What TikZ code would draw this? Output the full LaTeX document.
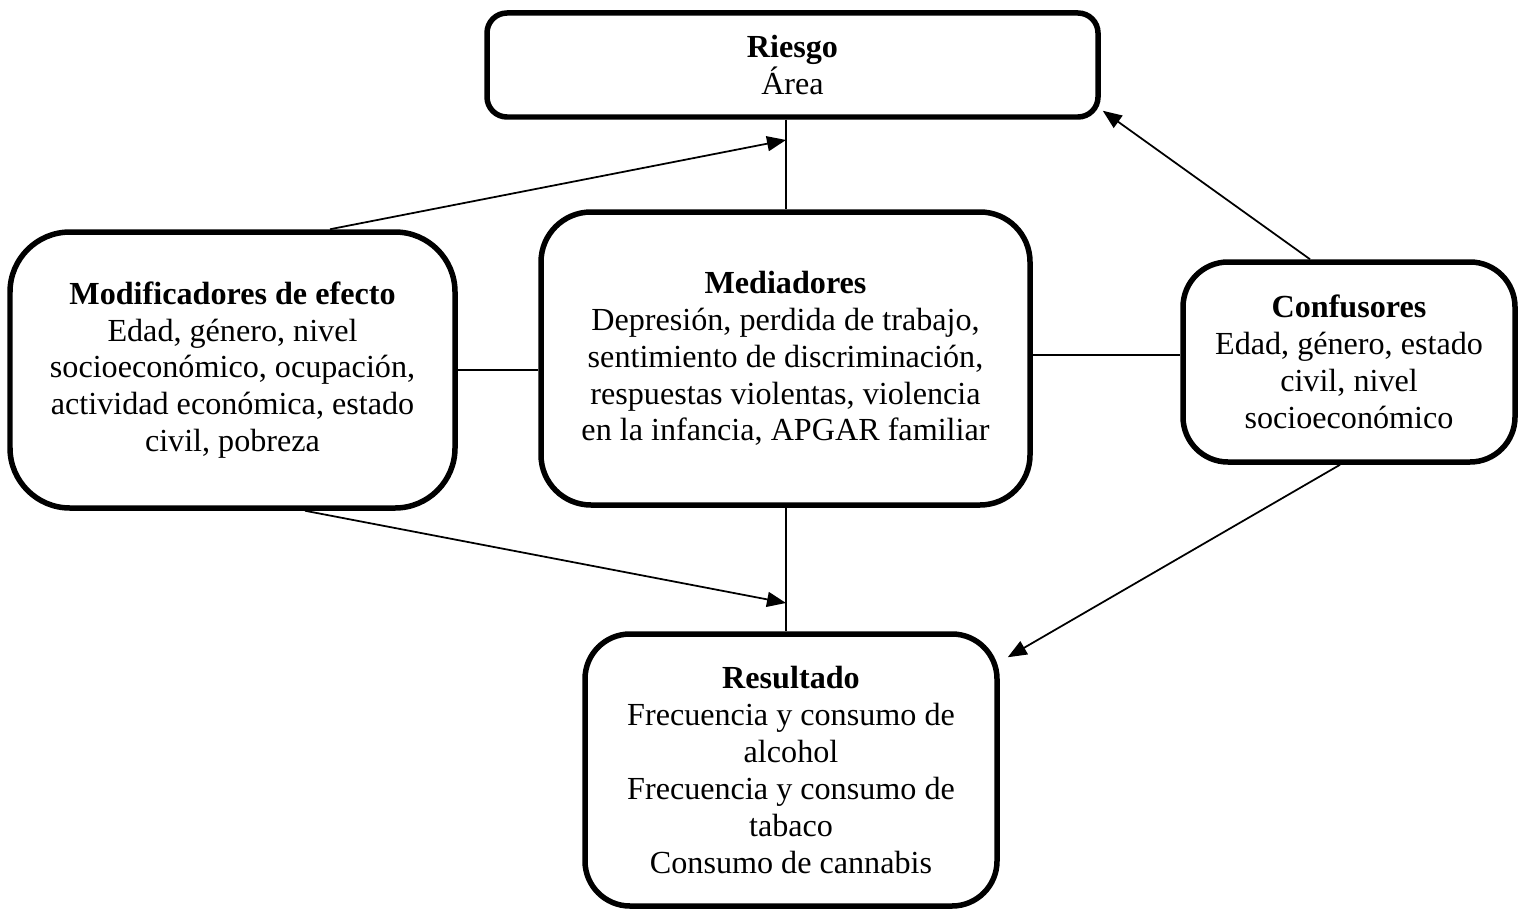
\documentclass[tikz,border=0pt]{standalone}
\usepackage{fontspec}
\setmainfont{Liberation Serif}
\usetikzlibrary{arrows.meta,calc}
\begin{document}
\begin{tikzpicture}[x=0.02cm,y=-0.02cm,
  box/.style={draw,line width=0.11cm,align=center,inner sep=0pt,font=\fontsize{18.3}{21}\selectfont},
  conn/.style={line width=1pt},
  arr/.style={conn,-{Triangle[length=0.38cm,width=0.3cm]}}]
\useasboundingbox (0,0) rectangle (1520,909);
\node[box,rounded corners=0.4cm,minimum width=611*0.02cm,minimum height=104*0.02cm] (riesgo) at (792.5,65)
  {\textbf{Riesgo}\\Área};
\node[box,rounded corners=1.2cm,minimum width=445*0.02cm,minimum height=276*0.02cm] (mod) at (232.5,370)
  {\textbf{Modificadores de efecto}\\Edad, género, nivel\\socioeconómico, ocupación,\\actividad económica, estado\\civil, pobreza};
\node[box,rounded corners=1.0cm,minimum width=489*0.02cm,minimum height=293*0.02cm] (medi) at (785.5,358.5)
  {\textbf{Mediadores}\\Depresión, perdida de trabajo,\\sentimiento de discriminación,\\respuestas violentas, violencia\\en la infancia, APGAR familiar};
\node[box,rounded corners=0.9cm,minimum width=332*0.02cm,minimum height=200*0.02cm] (conf) at (1349,362)
  {\textbf{Confusores}\\Edad, género, estado\\civil, nivel\\socioeconómico};
\node[box,rounded corners=0.9cm,minimum width=412*0.02cm,minimum height=272*0.02cm] (res) at (791,770)
  {\textbf{Resultado}\\Frecuencia y consumo de\\alcohol\\Frecuencia y consumo de\\tabaco\\Consumo de cannabis};
\coordinate (pr) at (786,140);
\coordinate (pm) at (786,603);
\coordinate (ml) at (1030,355);
\draw[conn] (riesgo.south -| pr) -- (medi.north -| pr);
\draw[conn] (medi.south -| pm) -- (res.north -| pm);
\draw[conn] (mod.east) -- (mod.east -| medi.west);
\draw[conn] (ml -| medi.east) -- (ml -| conf.west);
\draw[arr] ($(mod.north)+(97.5,0)$) -- (pr);
\draw[arr] ($(mod.south)+(72.5,0)$) -- (pm);
\draw[arr] ($(conf.north)+(-39,0)$) -- ($(riesgo.south east)+(2,-9)$);
\draw[arr] ($(conf.south)+(-9,0)$) -- ($(res.north east)+(8,26)$);
\end{tikzpicture}
\end{document}
